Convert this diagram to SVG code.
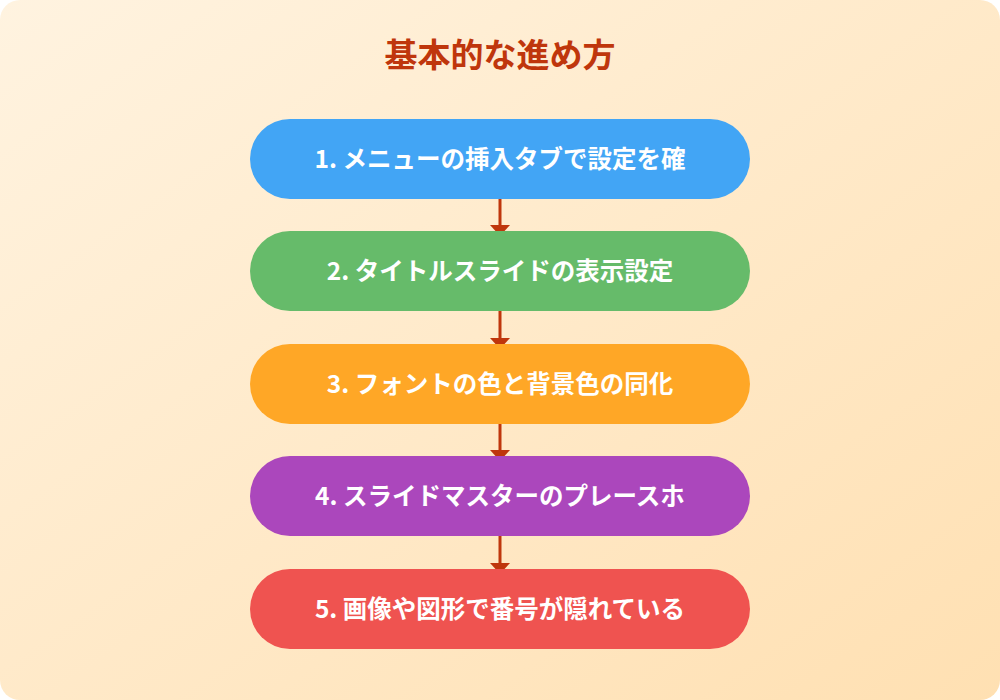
<svg xmlns="http://www.w3.org/2000/svg" width="1000" height="700" viewBox="0 0 1000 700">
<defs>
<linearGradient id="bg" x1="0" y1="0" x2="1" y2="1">
<stop offset="0" stop-color="#FFF3E0"/>
<stop offset="1" stop-color="#FFE0B2"/>
</linearGradient>
<style>
.title{font-family:"Noto Sans CJK JP","Noto Sans",sans-serif;font-weight:700;font-size:33px;fill:#BF360C}
.lbl{font-family:"Noto Sans CJK JP","Noto Sans",sans-serif;font-weight:700;font-size:24.5px;fill:#FFFFFF}
.conn line{stroke:#BF360C;stroke-width:3}
.conn path{fill:#BF360C}
</style>
</defs>
<rect x="0" y="0" width="1000" height="700" fill="#FFFFFF"/>
<rect x="0" y="0" width="1000" height="700" rx="20" ry="20" fill="url(#bg)"/>
<text class="title" x="500" y="67" text-anchor="middle">基本的な進め方</text>
<g id="connectors" class="conn">
<line x1="500" y1="199" x2="500" y2="226"/>
<path d="M490,225 L510,225 L500,236 Z"/>
<line x1="500" y1="311" x2="500" y2="339"/>
<path d="M490,338 L510,338 L500,349 Z"/>
<line x1="500" y1="424" x2="500" y2="451"/>
<path d="M490,450 L510,450 L500,461 Z"/>
<line x1="500" y1="536" x2="500" y2="564"/>
<path d="M490,563 L510,563 L500,574 Z"/>
</g>
<g id="node1"><rect x="250" y="119" width="500" height="80" rx="40" fill="#42A5F5"/><text class="lbl" x="500" y="168" text-anchor="middle">1. メニューの挿入タブで設定を確</text></g>
<g id="node2"><rect x="250" y="231" width="500" height="80" rx="40" fill="#66BB6A"/><text class="lbl" x="500" y="280" text-anchor="middle">2. タイトルスライドの表示設定</text></g>
<g id="node3"><rect x="250" y="344" width="500" height="80" rx="40" fill="#FFA726"/><text class="lbl" x="500" y="393" text-anchor="middle">3. フォントの色と背景色の同化</text></g>
<g id="node4"><rect x="250" y="456" width="500" height="80" rx="40" fill="#AB47BC"/><text class="lbl" x="500" y="505" text-anchor="middle">4. スライドマスターのプレースホ</text></g>
<g id="node5"><rect x="250" y="569" width="500" height="80" rx="40" fill="#EF5350"/><text class="lbl" x="500" y="618" text-anchor="middle">5. 画像や図形で番号が隠れている</text></g>
</svg>
